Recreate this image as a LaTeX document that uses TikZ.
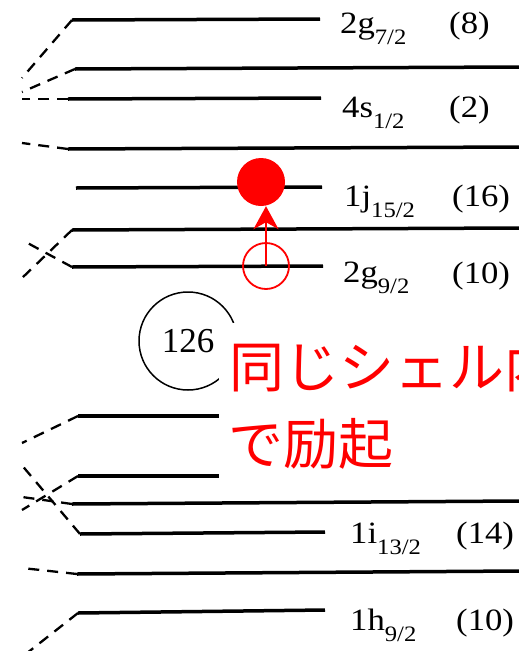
\documentclass[tikz,border=0pt]{standalone}
\usepackage{fontspec}
\setmainfont{Liberation Serif}
\newfontfamily\labfont{Liberation Serif}[FakeStretch=1.12]
\newfontfamily\jpfont{Noto Sans CJK JP}
\usetikzlibrary{arrows.meta}
\newcommand\lsub[1]{\raisebox{-11pt}{\fontsize{22}{22}\selectfont #1}}
\begin{document}
\begin{tikzpicture}[x=1pt,y=-1pt,
  lvl/.style={line width=3.5pt},
  conn/.style={line width=2.3pt, dash pattern=on 11pt off 8pt},
  lab/.style={anchor=base west, inner sep=0pt, font=\labfont\fontsize{31}{31}\selectfont},
  redc/.style={draw=red, line width=1.8pt, circle, inner sep=0pt},
]
\useasboundingbox (0,0) rectangle (519,651);
\clip (0,0) rectangle (519,651);
% level end points
\coordinate (a1) at (72,20);  \coordinate (b1) at (320,19);
\coordinate (a2) at (75,69);  \coordinate (b2) at (519,67);
\coordinate (a3) at (68,99);  \coordinate (b3) at (321,98);
\coordinate (a4) at (68,149); \coordinate (b4) at (519,147);
\coordinate (a5) at (76,188); \coordinate (b5) at (322,187);
\coordinate (a6) at (72,230); \coordinate (b6) at (519,228);
\coordinate (a7) at (72,267); \coordinate (b7) at (323,266);
\coordinate (a8) at (78,416); \coordinate (b8) at (322,416);
\coordinate (a9) at (78,476); \coordinate (b9) at (322,476);
\coordinate (a10) at (72,504); \coordinate (b10) at (519,501);
\coordinate (a11) at (80,534); \coordinate (b11) at (325,532);
\coordinate (a12) at (77,574); \coordinate (b12) at (519,571);
\coordinate (a13) at (78,613); \coordinate (b13) at (325,610);
\foreach \i in {1,...,13} {\draw[lvl] (a\i) -- (b\i);}
% free ends of dashed connectors
\coordinate (c1) at (22,78);
\coordinate (c2) at (22,92);
\coordinate (c3) at (22,99);
\coordinate (c4) at (22,143);
\coordinate (c6) at (22,278);
\coordinate (c7) at (22,240);
\coordinate (c8) at (22,443);
\coordinate (c9) at (22,510);
\coordinate (c10) at (22,497);
\coordinate (c11) at (20,463);
\coordinate (c12) at (22,568);
\coordinate (c13) at (22,657);
\foreach \i in {1,2,3,4,6,7,8,9,10,11,12,13} {\draw[conn] (a\i) -- (c\i);}
% labels
\node[lab] (t1) at (340,33) {2g\lsub{7/2}};
\node[lab] (n1) at (449,33) {(8)};
\node[lab] (t2) at (342,117) {4s\lsub{1/2}};
\node[lab] (n2) at (449,117) {(2)};
\node[lab] (t3) at (344,206) {1j\lsub{15/2}};
\node[lab] (n3) at (452,206) {(16)};
\node[lab] (t4) at (343,282) {2g\lsub{9/2}};
\node[lab] (n4) at (452,283) {(10)};
\node[lab] (t5) at (350,543) {1i\lsub{13/2}};
\node[lab] (n5) at (456,543) {(14)};
\node[lab] (t6) at (350,630) {1h\lsub{9/2}};
\node[lab] (n6) at (456,630) {(10)};
% magic number
\node[draw, circle, line width=1.5pt, minimum size=98pt, inner sep=0pt,
      font=\fontsize{35}{35}\selectfont] (m126) at (188,341) {126};
% white box and red text
\fill[white] (219,323) rectangle (530,487);
\node[anchor=base west, inner sep=0pt, text=red,
      font=\jpfont\fontsize{55}{55}\selectfont] (jp1) at (229,387) {同じシェル内};
\node[anchor=base west, inner sep=0pt, text=red,
      font=\jpfont\fontsize{55}{55}\selectfont] (jp2) at (228,464) {で励起};
% particle-hole excitation
\node[redc, minimum size=46pt] (hole) at (266,266) {};
\node[circle, fill=red, inner sep=0pt, minimum size=48pt] (part) at (261,182) {};
\draw[red, line width=2.5pt, -{Stealth[length=23pt,width=25pt,inset=7pt]}]
  (hole.center) -- (hole.center |- part.south);
\end{tikzpicture}
\end{document}
